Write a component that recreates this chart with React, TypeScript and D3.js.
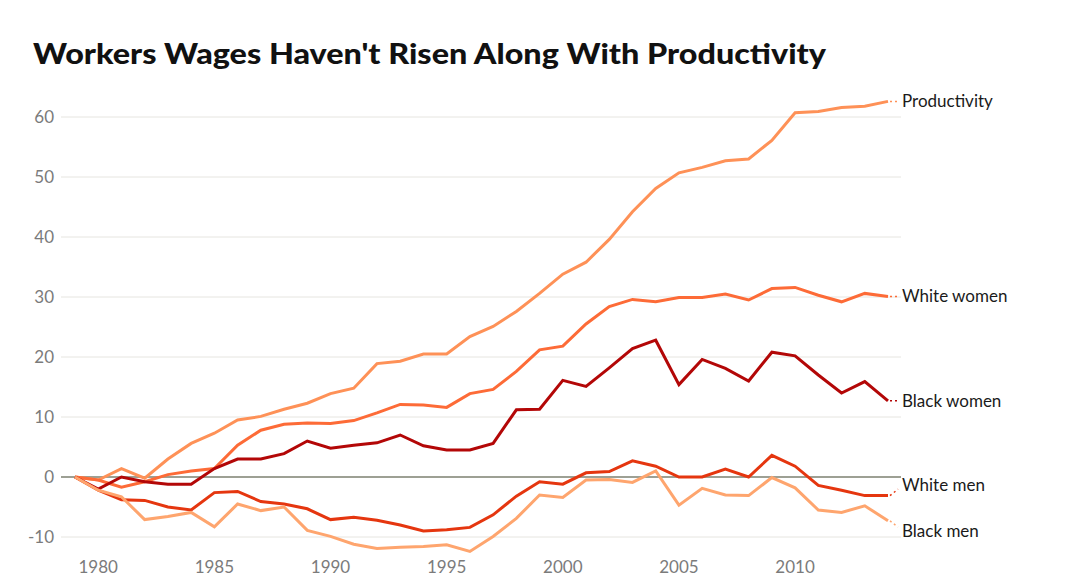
import { useEffect, useRef } from "react";
import * as d3 from "d3";

const years = d3.range(1979, 2015);

const productivity = [
  0, -0.5, 1.4, -0.2, 3.0, 5.6, 7.3, 9.5, 10.1, 11.3, 12.3, 13.9, 14.8, 18.9, 19.3, 20.5, 20.5, 23.4,
  25.1, 27.6, 30.6, 33.8, 35.8, 39.6, 44.2, 48.1, 50.7, 51.6, 52.7, 53.0, 56.1, 60.7, 60.9, 61.6, 61.8, 62.6,
];
const whiteWomen = [
  0, -0.5, -1.7, -0.8, 0.4, 1.0, 1.4, 5.3, 7.8, 8.8, 9.0, 8.9, 9.4, 10.7, 12.1, 12.0, 11.6, 13.9,
  14.6, 17.6, 21.2, 21.8, 25.5, 28.4, 29.6, 29.2, 29.9, 29.9, 30.5, 29.5, 31.4, 31.6, 30.3, 29.2, 30.6, 30.1,
];
const blackWomen = [
  0, -2.0, 0, -0.8, -1.2, -1.2, 1.4, 3.0, 3.0, 3.9, 6.0, 4.8, 5.3, 5.7, 7.0, 5.2, 4.5, 4.5,
  5.6, 11.2, 11.3, 16.1, 15.1, 18.2, 21.4, 22.8, 15.4, 19.6, 18.1, 16.0, 20.8, 20.2, 17.0, 14.0, 15.9, 12.7,
];
const whiteMen = [
  0, -2.2, -3.8, -3.9, -5.0, -5.5, -2.6, -2.4, -4.1, -4.5, -5.3, -7.1, -6.7, -7.2, -8.0, -9.0, -8.8, -8.4,
  -6.3, -3.2, -0.8, -1.2, 0.7, 0.9, 2.7, 1.8, 0, 0, 1.3, 0, 3.6, 1.8, -1.4, -2.2, -3.1, -3.1,
];
const blackMen = [
  0, -2.2, -3.3, -7.1, -6.6, -5.9, -8.3, -4.5, -5.6, -5.0, -8.9, -9.9, -11.2, -11.9, -11.7, -11.6, -11.3, -12.4,
  -9.9, -6.9, -3.0, -3.4, -0.5, -0.4, -0.9, 1.0, -4.7, -1.9, -3.0, -3.1, -0.1, -1.8, -5.5, -5.9, -4.8, -7.3,
];

const seriesNames = ["Productivity", "White women", "Black women", "White men", "Black men"];
const seriesValues = [productivity, whiteWomen, blackWomen, whiteMen, blackMen];
const seriesColors = ["#fe9157", "#fd6b37", "#b30707", "#e5360f", "#fea56e"];

const yTicks = [-10, 0, 10, 20, 30, 40, 50, 60];
const xTicks = [1980, 1985, 1990, 1995, 2000, 2005, 2010];

const title = "Workers Wages Haven't Risen Along With Productivity";

const W = 1080;
const H = 587;
const FONT = "Lato, 'Open Sans', sans-serif";

export default function App() {
  const svgRef = useRef<SVGSVGElement>(null);

  useEffect(() => {
    document.body.style.margin = "0";
    if (!svgRef.current) return;
    const svg = d3.select(svgRef.current);
    svg.selectAll("*").remove();

    const x = d3.scaleLinear().domain([1979, 2014]).range([75, 888]);
    const y = d3.scaleLinear().domain([-10, 60]).range([537, 117]);
    const gridLeft = 61;
    const gridRight = 901;

    svg
      .append("text")
      .attr("x", 33)
      .attr("y", 64)
      .attr("font-family", FONT)
      .attr("font-weight", 900)
      .attr("font-size", 29)
      .attr("fill", "#111")
      .attr("textLength", 793)
      .attr("lengthAdjust", "spacingAndGlyphs")
      .text(title);

    // grid
    svg
      .append("g")
      .selectAll("line")
      .data(yTicks.filter((t) => t !== 0))
      .join("line")
      .attr("x1", gridLeft)
      .attr("x2", gridRight)
      .attr("y1", (d) => y(d))
      .attr("y2", (d) => y(d))
      .attr("stroke", "#e6e5e0")
      .attr("stroke-width", 1);

    svg
      .append("g")
      .selectAll("text")
      .data(yTicks)
      .join("text")
      .attr("x", 54)
      .attr("y", (d) => y(d))
      .attr("dy", "0.35em")
      .attr("text-anchor", "end")
      .attr("font-family", FONT)
      .attr("font-size", 17)
      .attr("fill", "#7b7b7b")
      .text((d) => String(d));

    svg
      .append("g")
      .selectAll("text")
      .data(xTicks)
      .join("text")
      .attr("x", (d) => x(d))
      .attr("y", 567)
      .attr("dy", "0.35em")
      .attr("text-anchor", "middle")
      .attr("font-family", FONT)
      .attr("font-size", 17)
      .attr("fill", "#7b7b7b")
      .text((d) => String(d));

    // zero line
    svg
      .append("line")
      .attr("x1", gridLeft)
      .attr("x2", gridRight)
      .attr("y1", y(0))
      .attr("y2", y(0))
      .attr("stroke", "#7d8070")
      .attr("stroke-width", 1.3);

    const line = d3
      .line<number>()
      .x((_, i) => x(years[i]))
      .y((d) => y(d));

    svg
      .append("g")
      .selectAll("path")
      .data(seriesValues)
      .join("path")
      .attr("fill", "none")
      .attr("stroke", (_, i) => seriesColors[i])
      .attr("stroke-width", 3)
      .attr("stroke-linejoin", "miter")
      .attr("d", (d) => line(d));

    // end labels, pushed apart when they collide
    const minGap = 46;
    const labels = seriesValues.map((vals, i) => ({
      i,
      endY: y(vals[vals.length - 1]),
      ly: y(vals[vals.length - 1]),
    }));
    const sorted = [...labels].sort((a, b) => a.endY - b.endY);
    for (let iter = 0; iter < 50; iter++) {
      for (let k = 1; k < sorted.length; k++) {
        const a = sorted[k - 1];
        const b = sorted[k];
        const overlap = minGap - (b.ly - a.ly);
        if (overlap > 0) {
          a.ly -= overlap / 2;
          b.ly += overlap / 2;
        }
      }
    }

    const endX = x(2014);
    const labelX = 902;

    svg
      .append("g")
      .selectAll("line")
      .data(labels)
      .join("line")
      .attr("x1", endX + 2)
      .attr("y1", (d) => d.endY)
      .attr("x2", labelX - 4)
      .attr("y2", (d) => d.ly + (d.ly < d.endY ? 4 : d.ly > d.endY ? -4 : 0))
      .attr("stroke", (d) => seriesColors[d.i])
      .attr("stroke-width", 1.5)
      .attr("stroke-dasharray", "2,3");

    svg
      .append("g")
      .selectAll("text")
      .data(labels)
      .join("text")
      .attr("x", labelX)
      .attr("y", (d) => d.ly)
      .attr("dy", "0.35em")
      .attr("font-family", FONT)
      .attr("font-size", 17)
      .attr("fill", "#1a1a1a")
      .text((d) => seriesNames[d.i]);
  }, []);

  return (
    <div style={{ position: "absolute", left: 0, top: 0 }}>
      <svg ref={svgRef} width={W} height={H} style={{ display: "block", background: "#fff" }} />
    </div>
  );
}
